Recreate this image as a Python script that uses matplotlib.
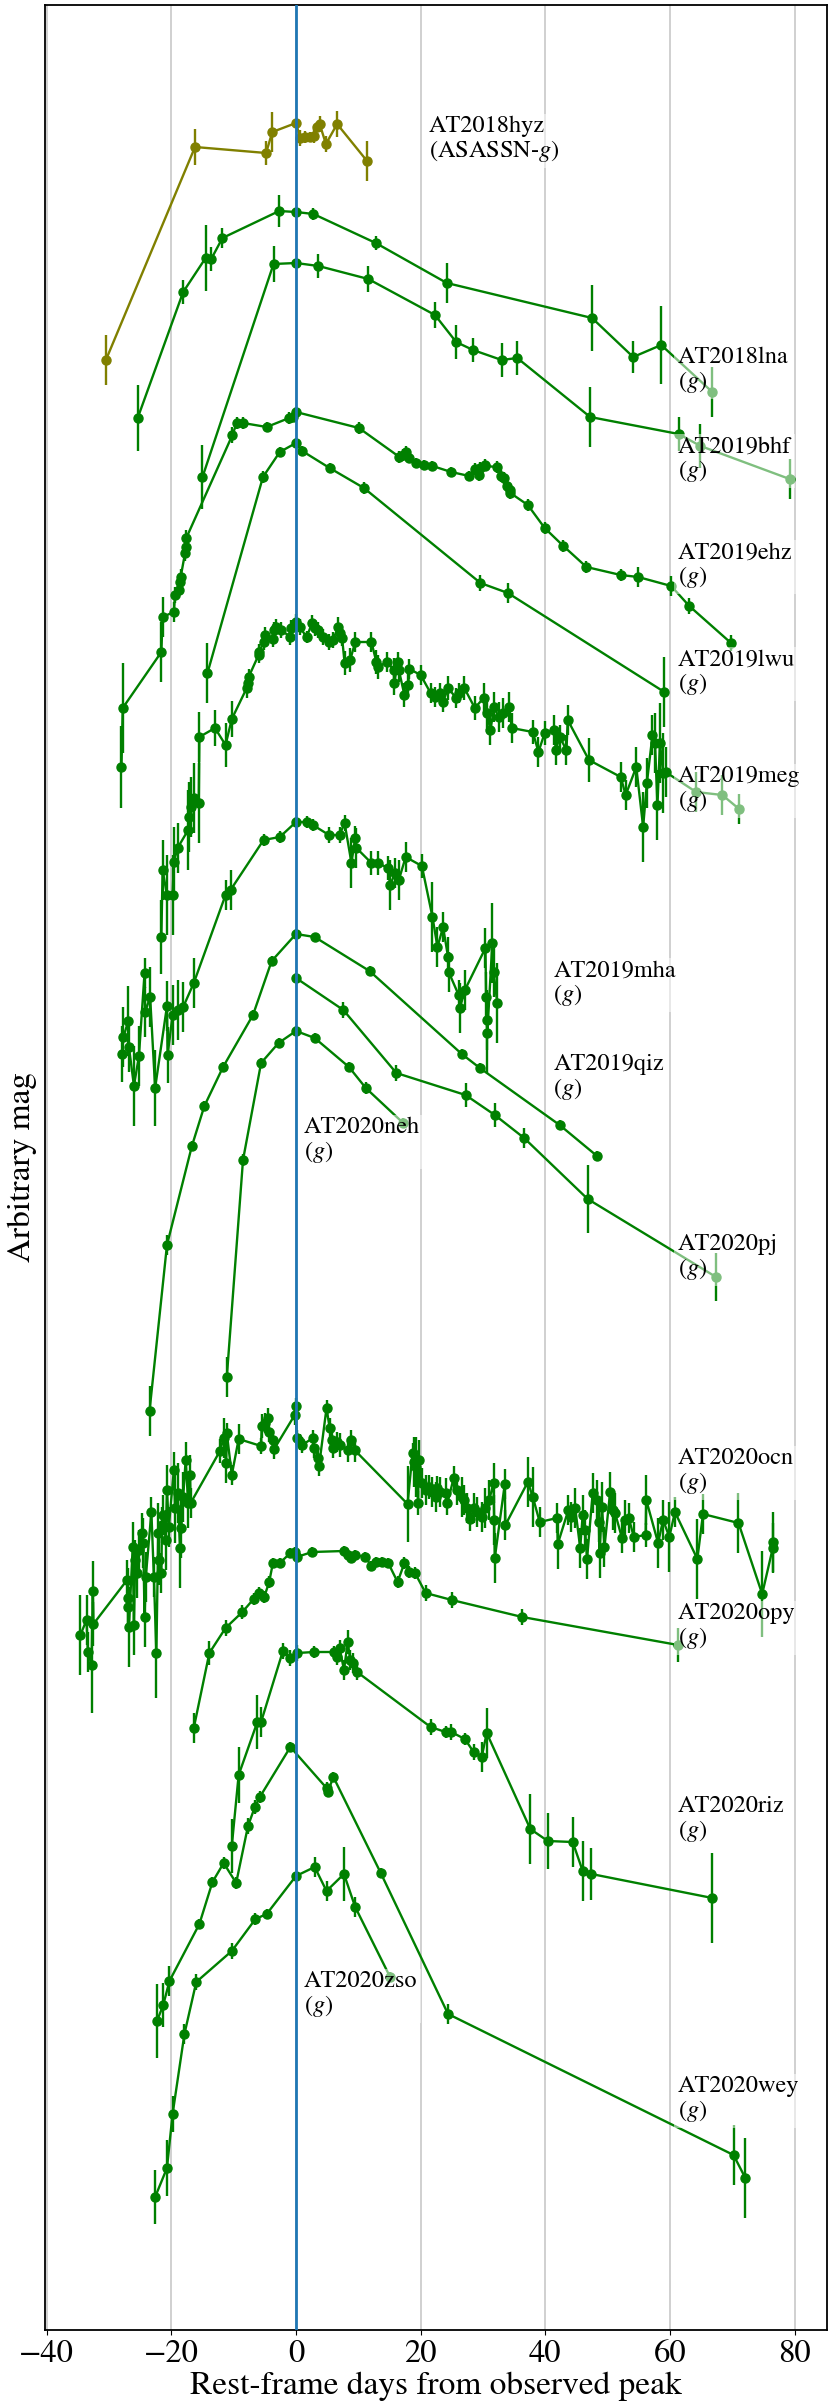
import matplotlib
matplotlib.use('Agg')
import matplotlib.pyplot as plt
import numpy as np

plt.rcParams['font.family'] = ['STIXGeneral', 'DejaVu Sans']
plt.rcParams['mathtext.fontset'] = 'stix'

# ---------------- data (day from peak, arbitrary mag x100, error x100) ----------------
hyz_day = [-30.5, -16.2, -4.8, -3.8, 0.0, 0.7, 1.5, 2.2, 2.9, 3.4, 3.8, 4.8, 6.6, 11.4]
hyz_mag = [360, 147, 153, 132, 123, 138, 137, 137, 136, 127, 124, 144, 124, 161]
hyz_err = [25, 18, 12, 20, 4, 8, 6, 5, 7, 5, 8, 8, 13, 20]

lna_day = [-25.4, -18.1, -14.5, -13.6, -11.8, -2.7, 0.0, 2.8, 12.8, 24.2, 47.5, 54.1, 58.6, 66.8]
lna_mag = [418, 292, 258, 259, 238, 211, 212, 214, 243, 283, 318, 357, 345, 392]
lna_err = [33, 12, 33, 12, 10, 16, 3, 6, 7, 20, 33, 16, 39, 25]

bhf_day = [-15.0, -3.6, 0.0, 3.6, 11.6, 22.3, 25.7, 28.4, 33.0, 35.5, 47.2, 61.4, 64.9, 79.2]
bhf_mag = [477, 264, 263, 266, 279, 315, 342, 350, 360, 358, 417, 434, 446, 479]
bhf_err = [32, 18, 3, 12, 13, 13, 17, 12, 17, 17, 30, 17, 22, 20]

ehz_day = [-28.0, -27.8, -21.6, -21.4, -19.6, -19.4, -18.7, -18.6, -18.5, -17.8, -17.7, -17.6,
           -10.2, -9.5, -8.5, -4.7, -1.1, -0.4, 0.0, 10.1, 16.6, 17.2, 17.7, 18.2, 19.2, 20.6,
           21.9, 24.9, 27.8, 28.7, 29.3, 29.5, 30.3, 30.4, 32.3, 32.9, 33.3, 33.8, 34.3, 34.4,
           37.2, 39.9, 42.9, 46.6, 52.1, 54.9, 60.2, 63.1, 69.8]
ehz_mag = [767, 708, 652, 617, 612, 595, 590, 582, 577, 553, 547, 538,
           435, 423, 423, 427, 418, 417, 412, 428, 457, 455, 452, 458, 463, 465,
           466, 472, 476, 469, 475, 468, 465, 466, 467, 476, 478, 486, 490, 493,
           505, 528, 546, 567, 575, 577, 586, 606, 643]
ehz_err = [41, 45, 30, 20, 10, 8, 8, 8, 8, 8, 8, 8,
           8, 6, 6, 5, 6, 5, 5, 6, 6, 6, 6, 5, 5, 5,
           5, 5, 5, 6, 6, 6, 6, 5, 6, 6, 6, 6, 6, 6,
           6, 6, 6, 6, 6, 10, 10, 8, 8]

lwu_day = [-14.2, -5.3, -2.6, 0.0, 1.0, 5.4, 10.9, 29.6, 34.0, 59.1]
lwu_mag = [673, 477, 452, 443, 451, 468, 488, 583, 593, 692]
lwu_err = [30, 6, 5, 5, 5, 5, 6, 8, 10, 35]

meg_day = [-21.6, -21.4, -20.7, -19.8, -19.6, -19.0, -17.3, -17.2, -16.9, -16.4, -15.6, -15.5,
           -13.0, -11.3, -10.3, -7.9, -7.7, -7.6, -6.0, -5.9, -5.2, -4.9, -3.7, -3.5, -3.2,
           -2.4, -0.9, -0.8, 0.0, 0.6, 1.7, 2.6, 3.1, 3.6, 4.4, 5.3, 5.9, 6.8, 7.0, 7.4, 7.8,
           8.7, 9.5, 12.1, 12.9, 13.1, 14.6, 15.7, 15.8, 16.3, 16.5, 17.4, 18.0, 18.2, 20.0,
           21.6, 22.3, 23.1, 23.6, 24.4, 25.7, 26.1, 27.0, 28.7, 30.1, 30.6, 31.2, 31.8, 32.5,
           33.2, 34.2, 34.6, 38.0, 38.9, 39.9, 41.4, 41.7, 42.3, 43.4, 43.6, 47.0, 52.1, 52.9,
           54.6, 55.7, 56.3, 57.2, 57.6, 58.0, 58.4, 58.9, 59.3, 64.2, 68.4, 71.1]
meg_mag = [937, 870, 895, 895, 862, 848, 830, 817, 807, 798, 803, 737,
           728, 745, 719, 688, 683, 677, 655, 652, 642, 635, 639, 630, 627,
           630, 637, 628, 622, 627, 637, 623, 628, 630, 637, 642, 640, 627, 633, 638, 663,
           660, 642, 642, 662, 667, 662, 670, 683, 662, 670, 695, 685, 669, 675,
           693, 697, 693, 702, 688, 698, 693, 688, 708, 698, 713, 730, 707, 717,
           713, 707, 728, 732, 752, 733, 730, 750, 737, 750, 720, 760, 777, 795,
           767, 827, 783, 735, 743, 805, 743, 773, 772, 792, 795, 809]
meg_err = [37, 30, 40, 40, 35, 25, 40, 35, 30, 35, 40, 25,
           18, 22, 18, 10, 10, 8, 8, 8, 8, 8, 8, 8, 8,
           8, 8, 8, 8, 8, 6, 8, 8, 8, 8, 8, 8, 10, 8, 8, 12,
           12, 10, 10, 12, 12, 10, 12, 12, 10, 12, 12, 12, 10, 10,
           10, 10, 10, 10, 12, 10, 10, 12, 12, 15, 15, 15, 15, 15,
           15, 15, 15, 12, 15, 12, 15, 15, 12, 15, 15, 22, 15, 15,
           20, 35, 25, 20, 30, 35, 40, 40, 25, 20, 20, 15]

mha_day = [-27.9, -27.7, -26.9, -26.8, -26.0, -25.2, -24.3, -24.2, -23.4, -22.6, -20.7, -20.6,
           -19.8, -19.0, -18.1, -16.4, -11.3, -10.5, -5.2, -2.6, 0.0, 1.7, 2.7, 5.3, 7.0, 7.8,
           8.9, 9.5, 9.7, 12.1, 13.1, 14.8, 15.1, 15.9, 16.5, 17.6, 20.2, 21.9, 22.7, 23.6,
           24.4, 24.5, 26.1, 26.3, 27.1, 30.4, 30.5, 30.6, 30.7, 31.5, 31.7, 32.3]
mha_mag = [1054, 1037, 1021, 1047, 1086, 1056, 973, 1012, 997, 1088, 1006, 1055,
           1015, 1010, 1007, 983, 895, 890, 840, 837, 822, 822, 825, 835, 835, 823,
           863, 838, 848, 863, 863, 868, 885, 873, 880, 857, 866, 917, 947, 927,
           957, 972, 995, 1008, 990, 948, 997, 1020, 1033, 943, 972, 1003]
mha_err = [28, 30, 35, 25, 40, 30, 15, 25, 30, 38, 25, 28,
           30, 30, 25, 25, 15, 20, 6, 6, 5, 6, 6, 8, 8, 8,
           25, 12, 20, 12, 12, 12, 25, 15, 20, 15, 12, 35, 20, 15,
           20, 20, 15, 25, 20, 20, 25, 30, 40, 40, 25, 40]

qiz_day = [-23.5, -20.7, -16.7, -14.7, -11.7, -6.9, -3.9, 0.0, 3.0, 11.8, 26.6, 29.5, 42.3, 48.3]
qiz_mag = [1411, 1245, 1146, 1106, 1067, 1015, 961, 934, 937, 971, 1054, 1068, 1125, 1156]
qiz_err = [25, 10, 5, 5, 5, 5, 5, 5, 4, 5, 5, 5, 5, 5]

pj_day = [0.0, 7.6, 16.1, 27.2, 31.9, 36.6, 46.8, 67.4]
pj_mag = [978, 1010, 1073, 1095, 1115, 1138, 1199, 1277]
pj_err = [5, 8, 8, 12, 12, 10, 34, 24]

neh_day = [-11.1, -8.5, -5.6, -2.8, 0.0, 3.0, 8.5, 11.2, 17.2]
neh_mag = [1377, 1160, 1063, 1043, 1031, 1038, 1067, 1088, 1123]
neh_err = [20, 6, 5, 5, 5, 5, 5, 6, 5]

ocn_day = [-34.6, -33.6, -33.4, -32.8, -32.6, -32.5, -27.1, -27.0, -26.9, -26.8, -26.2, -26.0,
           -25.8, -25.5, -25.2, -24.7, -24.5, -24.3, -24.1, -23.2, -22.8, -22.4, -22.1, -22.0,
           -21.6, -21.5, -21.3, -20.9, -20.7, -20.4, -19.6, -19.4, -19.0, -18.6, -18.4, -18.1,
           -17.7, -17.3, -17.0, -16.9, -12.2, -11.6, -11.2, -11.1, -10.3, -9.2, -5.6, -5.5,
           -4.9, -4.5, -4.3, -3.7, -3.5, -0.2, 0.0, 0.1, 0.6, 1.0, 2.7, 2.9, 3.6, 3.7, 4.9,
           5.4, 5.7, 6.0, 6.6, 7.0, 8.3, 8.9, 9.4, 17.9, 18.7, 18.9, 19.3, 19.6, 19.7, 20.2,
           20.8, 21.3, 21.9, 22.5, 22.7, 23.1, 24.0, 24.3, 25.3, 25.9, 26.6, 27.0, 27.4, 28.0,
           28.5, 29.1, 29.8, 30.4, 31.0, 31.7, 31.8, 31.9, 33.5, 33.6, 37.2, 38.0, 39.1, 41.9,
           42.0, 43.7, 44.1, 44.8, 45.6, 46.0, 46.4, 46.7, 47.6, 48.3, 48.6, 48.7, 49.1, 49.5,
           50.4, 50.8, 51.2, 52.3, 52.8, 53.4, 54.2, 56.1, 56.2, 58.1, 58.9, 59.9, 60.8, 64.4,
           65.3, 71.0, 74.8, 76.5, 76.6]
ocn_mag = [1635, 1620, 1652, 1665, 1591, 1624, 1580, 1598, 1607, 1627, 1547, 1625,
           1560, 1573, 1550, 1533, 1543, 1617, 1577, 1512, 1577, 1653, 1533, 1560,
           1573, 1525, 1515, 1540, 1490, 1527, 1470, 1508, 1493, 1548, 1528, 1497,
           1460, 1503, 1475, 1503, 1451, 1438, 1463, 1433, 1475, 1439, 1446, 1426,
           1423, 1418, 1432, 1440, 1449, 1415, 1406, 1438, 1442, 1445, 1438, 1448, 1458, 1466, 1408,
           1428, 1440, 1448, 1442, 1445, 1450, 1440, 1450, 1504, 1453, 1462, 1467, 1503, 1460, 1483,
           1490, 1487, 1492, 1497, 1488, 1492, 1493, 1503, 1478, 1490, 1497, 1500, 1508, 1519,
           1508, 1512, 1517, 1508, 1500, 1483, 1520, 1558, 1484, 1525, 1482, 1497, 1522, 1518,
           1544, 1510, 1517, 1508, 1548, 1515, 1530, 1559, 1493, 1500, 1522, 1553, 1507, 1547,
           1492, 1510, 1513, 1538, 1520, 1518, 1537, 1535, 1500, 1543, 1520, 1537, 1512, 1559,
           1514, 1523, 1594, 1548, 1542]
ocn_err = [40, 25, 20, 48, 30, 22, 20, 30, 25, 40, 25, 30,
           20, 25, 20, 20, 25, 30, 25, 15, 20, 45, 30, 25,
           20, 18, 20, 30, 25, 20, 18, 35, 30, 40, 30, 25,
           18, 25, 20, 15, 12, 20, 20, 10, 10, 15, 8, 12,
           10, 10, 10, 10, 10, 10, 8, 8, 8, 8, 8, 10, 10, 10, 8,
           10, 12, 10, 10, 12, 12, 10, 12, 38, 10, 25, 30, 12, 20, 15,
           15, 12, 15, 15, 12, 15, 15, 12, 12, 15, 20, 15, 15, 12,
           15, 15, 15, 20, 20, 20, 25, 25, 15, 15, 25, 30, 15, 15,
           25, 15, 15, 20, 20, 20, 20, 20, 20, 20, 20, 25, 25, 20,
           20, 20, 20, 15, 20, 15, 15, 12, 25, 25, 20, 35, 15, 40,
           20, 30, 43, 25, 30]

opy_day = [-16.4, -13.9, -11.3, -8.6, -6.8, -6.0, -5.1, -4.3, -3.7, -2.6, -0.9, -0.1, 0.1,
           2.6, 7.7, 8.3, 8.9, 9.5, 11.1, 12.1, 12.9, 13.8, 14.8, 16.3, 17.4, 18.2, 19.1,
           20.8, 25.0, 36.3, 61.3]
opy_mag = [1728, 1653, 1628, 1612, 1599, 1593, 1597, 1582, 1563, 1563, 1553, 1552, 1557,
           1552, 1551, 1555, 1558, 1555, 1557, 1566, 1562, 1562, 1563, 1582, 1563, 1572, 1573,
           1593, 1600, 1617, 1645]
opy_err = [15, 12, 8, 7, 6, 6, 6, 6, 5, 5, 5, 5, 5,
           5, 5, 5, 5, 5, 5, 5, 5, 5, 5, 6, 6, 6, 6,
           8, 8, 8, 17]

riz_day = [-10.3, -9.2, -6.2, -5.6, -2.1, -0.9, 0.2, 2.9, 6.1, 6.6, 7.0, 7.7, 8.3, 8.7, 9.1,
           9.8, 21.6, 24.0, 24.9, 27.1, 28.5, 29.8, 30.6, 37.6, 40.4, 44.4, 46.0, 47.4, 66.8]
riz_mag = [1846, 1775, 1722, 1722, 1651, 1658, 1653, 1652, 1652, 1657, 1648, 1670, 1642, 1660, 1663,
           1672, 1727, 1732, 1732, 1739, 1752, 1757, 1733, 1829, 1841, 1842, 1871, 1874, 1898]
riz_err = [27, 28, 27, 15, 8, 8, 8, 6, 6, 8, 8, 10, 12, 10, 10,
           8, 8, 6, 8, 6, 8, 15, 25, 35, 28, 25, 30, 26, 45]

zso_day = [-22.6, -20.7, -19.8, -17.9, -16.0, -10.3, -6.5, -4.7, 0.0, 3.0, 4.9, 7.7, 9.5, 15.1]
zso_mag = [2197, 2168, 2114, 2034, 1982, 1951, 1919, 1914, 1876, 1867, 1891, 1874, 1907, 1977]
zso_err = [27, 28, 18, 10, 8, 8, 6, 5, 4, 10, 10, 27, 10, 5]

wey_day = [-22.3, -21.3, -20.3, -15.5, -13.4, -11.6, -9.6, -7.7, -6.6, -5.8, -0.9, 4.9, 5.1,
           6.0, 13.6, 24.4, 70.2, 72.1]
wey_mag = [2021, 2005, 1981, 1924, 1882, 1863, 1883, 1826, 1807, 1797, 1747, 1788, 1792,
           1777, 1873, 2014, 2155, 2178]
wey_err = [37, 22, 15, 5, 5, 6, 6, 8, 7, 6, 5, 6, 5,
           5, 5, 10, 30, 40]

names = ['AT2018hyz', 'AT2018lna', 'AT2019bhf', 'AT2019ehz', 'AT2019lwu', 'AT2019meg',
         'AT2019mha', 'AT2019qiz', 'AT2020neh', 'AT2020pj', 'AT2020ocn', 'AT2020opy',
         'AT2020riz', 'AT2020zso', 'AT2020wey']
bands = ['ASASSN-$g$', '$g$', '$g$', '$g$', '$g$', '$g$', '$g$', '$g$', '$g$', '$g$',
         '$g$', '$g$', '$g$', '$g$', '$g$']
label_x = [21.3, 61.3, 61.3, 61.3, 61.3, 61.3, 41.3, 41.3, 1.3, 61.3, 61.3, 61.3, 61.3, 1.3, 61.3]
label_y = [140, 371, 460, 566, 673, 790, 984, 1078, 1141, 1258, 1472, 1627, 1820, 1995, 2100]

series = [(hyz_day, hyz_mag, hyz_err, 'olive'),
          (lna_day, lna_mag, lna_err, 'green'),
          (bhf_day, bhf_mag, bhf_err, 'green'),
          (ehz_day, ehz_mag, ehz_err, 'green'),
          (lwu_day, lwu_mag, lwu_err, 'green'),
          (meg_day, meg_mag, meg_err, 'green'),
          (mha_day, mha_mag, mha_err, 'green'),
          (qiz_day, qiz_mag, qiz_err, 'green'),
          (neh_day, neh_mag, neh_err, 'green'),
          (pj_day, pj_mag, pj_err, 'green'),
          (ocn_day, ocn_mag, ocn_err, 'green'),
          (opy_day, opy_mag, opy_err, 'green'),
          (riz_day, riz_mag, riz_err, 'green'),
          (zso_day, zso_mag, zso_err, 'green'),
          (wey_day, wey_mag, wey_err, 'green')]

# ---------------- figure ----------------
W, H = 831, 2408
fig = plt.figure(figsize=(W / 100, H / 100), dpi=100)
ax = fig.add_axes([45 / W, (H - 2330) / H, (827 - 45) / W, (2330 - 5) / H])

for d, m, e, c in series:
    ax.errorbar(d, np.array(m) / 100.0, yerr=np.array(e) / 100.0, fmt='-o', color=c,
                ms=6.5, lw=1.7, elinewidth=1.7, capsize=0, zorder=2)

for n, b, lx, ly in zip(names, bands, label_x, label_y):
    ax.text(lx, ly / 100.0, n + '\n(' + b + ')', fontsize=17.5, ha='left', va='center',
            linespacing=1.05, zorder=4,
            bbox=dict(facecolor='white', alpha=0.5, edgecolor='none', boxstyle='square,pad=0.15'))

ax.axvline(0, color='#1f77b4', lw=2.0, zorder=3)
ax.grid(axis='x', color='#c8c8c8', lw=1.2, zorder=0)
ax.set_axisbelow(True)

ax.set_xlim(-40.27, 85.2)
ax.set_ylim(23.30, 0.05)
ax.set_xticks([-40, -20, 0, 20, 40, 60, 80])
ax.set_yticks([])
ax.tick_params(axis='x', labelsize=23.5)
for s in ax.spines.values():
    s.set_linewidth(1.3)
ax.set_xlabel('Rest-frame days from observed peak', fontsize=24, labelpad=2)
ax.set_ylabel('Arbitrary mag', fontsize=24, labelpad=6)

fig.savefig('out.png', dpi=100)
